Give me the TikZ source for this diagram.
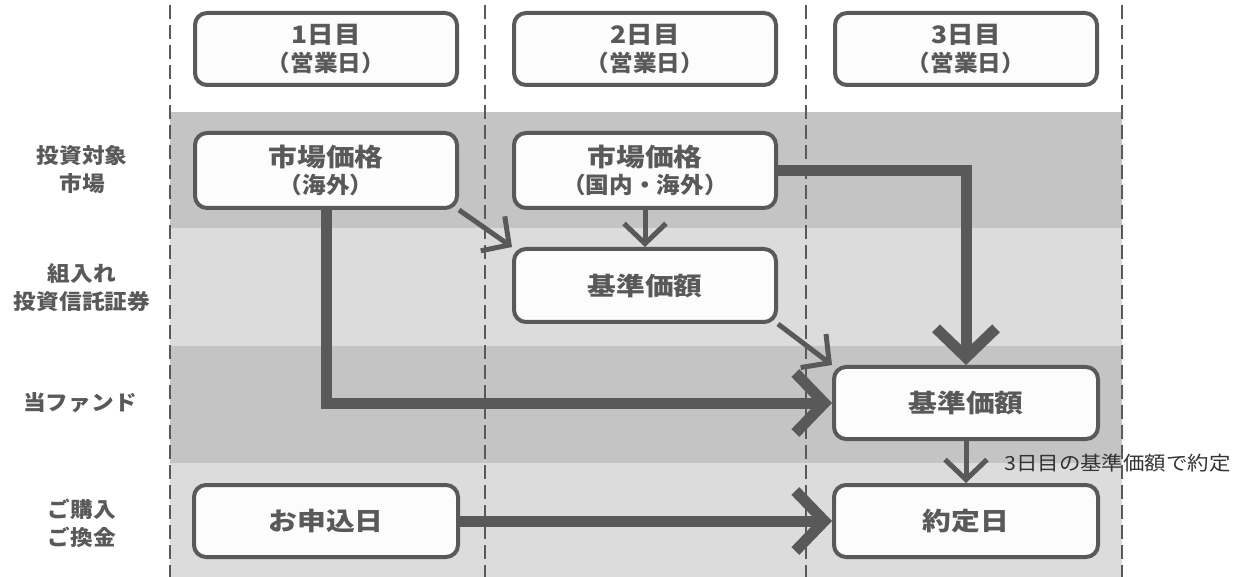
\documentclass[tikz,border=0pt]{standalone}
\usepackage{fontspec}
\setmainfont{Noto Sans CJK JP}
\usetikzlibrary{arrows.meta}
\definecolor{dk}{HTML}{595959}
\definecolor{bandA}{HTML}{C4C4C4}
\definecolor{bandB}{HTML}{DCDCDC}
\definecolor{boxfill}{HTML}{FCFCFC}
\definecolor{lbl}{HTML}{333333}
\newcommand\bigtxt{\fontsize{25}{27}\selectfont\bfseries\addfontfeature{FakeStretch=1.15}}
\newcommand\subtxt{\fontsize{22.5}{27}\selectfont\bfseries\addfontfeature{FakeStretch=1.05}}
\newcommand\hdtxt{\fontsize{24}{28}\selectfont\bfseries\addfontfeature{FakeStretch=1.1}}
\begin{document}
\begin{tikzpicture}[x=1pt,y=-1pt,
  box/.style={draw=dk, line width=4pt, rounded corners=12pt, fill=boxfill, text=dk,
    align=center, minimum width=262pt, minimum height=72pt, inner sep=0pt,
    font=\fontsize{19}{27}\selectfont},
  rowlabel/.style={text=dk, align=center, inner sep=0pt,
    font=\fontsize{21}{28}\selectfont\bfseries\addfontfeature{FakeStretch=1.08}},
  thickarrow/.style={draw=dk, line width=11pt, line join=miter, -{Straight Barb[length=29pt,width=60pt]}},
  thinarrow/.style={draw=dk, line width=5pt, -{Straight Barb[length=20pt,width=42pt]}},
  sep/.style={draw=dk, line width=1.5pt, dash pattern=on 14pt off 6pt}
]
\useasboundingbox (0,0) rectangle (1248,577);
\fill[white] (0,0) rectangle (1248,577);
% bands
\fill[bandA] (170,112) rectangle (1122,228);
\fill[bandB] (170,228) rectangle (1122,346);
\fill[bandA] (170,346) rectangle (1122,463);
\fill[bandB] (170,463) rectangle (1122,577);
% separators
\foreach \xx in {170,485,806,1122} \draw[sep] (\xx,5) -- (\xx,577);
% headers
\node[box, font=\fontsize{19}{28.5}\selectfont] (h1) at (326,49) {{\hdtxt 1日目}\\{\subtxt （営業日）}};
\node[box, font=\fontsize{19}{28.5}\selectfont] (h2) at (645,49) {{\hdtxt 2日目}\\{\subtxt （営業日）}};
\node[box, font=\fontsize{19}{28.5}\selectfont] (h3) at (966,49) {{\hdtxt 3日目}\\{\subtxt （営業日）}};
% row labels
\node[rowlabel] (r1) at (82,170) {投資対象\\市場};
\node[rowlabel] (r2) at (82,288) {組入れ\\投資信託証券};
\node[rowlabel] (r3) at (80,403) {当ファンド};
\node[rowlabel] (r4) at (82,523) {ご購入\\ご換金};
% boxes
\node[box, minimum height=75pt] (m1) at (326,170.5) {{\bigtxt 市場価格}\\{\subtxt （海外）}};
\node[box, minimum height=75pt] (m2) at (645,170.5) {{\bigtxt 市場価格}\\{\subtxt （国内・海外）}};
\node[box, minimum height=73pt] (k2) at (645,285.5) {\bigtxt 基準価額};
\node[box, minimum width=264pt] (k3) at (966,403) {\bigtxt 基準価額};
\node[box, minimum width=264pt] (ap) at (326,521) {\bigtxt お申込日};
\node[box, minimum width=264pt] (st) at (966,521) {\bigtxt 約定日};
% arrows
\draw[thickarrow] (m1.south) |- (k3.west);
\draw[thickarrow] (m2.east) -| (k3.north);
\draw[thickarrow] (ap.east) -- (st.west);
\draw[thinarrow] (m1.south east) -- (k2.north west);
\draw[thinarrow] (m2.south) -- (k2.north);
\draw[thinarrow] (k2.south east) -- (k3.north west);
\draw[thinarrow] (k3.south) -- (st.north);
\node[anchor=west, inner sep=0pt, text=lbl,
  font=\fontsize{19.5}{22}\selectfont\addfontfeature{FakeStretch=1.1}] (lab) at (1004,463) {3日目の基準価額で約定};
\end{tikzpicture}
\end{document}
